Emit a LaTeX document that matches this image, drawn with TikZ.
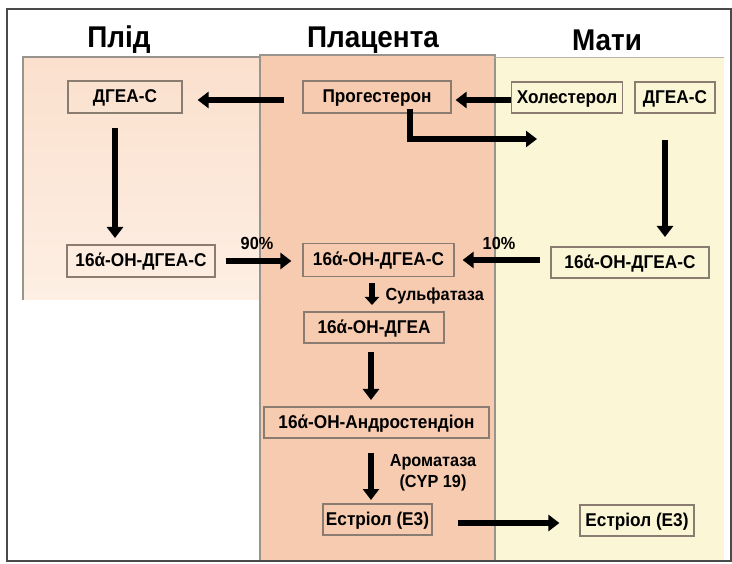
\documentclass[tikz,border=0pt]{standalone}
\usepackage{fontspec}
\setmainfont{Liberation Sans}[FakeStretch=0.93]
\usetikzlibrary{arrows.meta}
\definecolor{fetuscol}{HTML}{FBE0CD}
\definecolor{fetuslight}{HTML}{FDEFE4}
\definecolor{placcol}{HTML}{F7CBB0}
\definecolor{mothcol}{HTML}{FBF6D6}
\definecolor{boxline}{HTML}{8A7C70}
\definecolor{regline}{HTML}{9A948E}
\definecolor{framecol}{HTML}{4A4A4A}
\tikzset{
  box/.style={draw=boxline, line width=1.2pt, inner sep=0pt, text height=13.2pt, text depth=1.5pt, font=\bfseries\fontsize{18.5}{21}\selectfont},
  title/.style={font=\bfseries\fontsize{30}{34}\selectfont},
  lbl/.style={font=\bfseries\fontsize{17.5}{21}\selectfont},
  flow/.style={line width=6.5pt, -{Triangle[length=11pt,width=16pt]}},
}
\begin{document}
\begin{tikzpicture}[x=1pt,y=-1pt]
\useasboundingbox (0,0) rectangle (732,564);
\fill[white] (0,0) rectangle (732,564);
% regions
\shade[top color=fetuscol, bottom color=fetuslight] (23,57) rectangle (260,300);
\draw[regline, line width=1.2pt] (23,300) -- (23,57) -- (260,57);
\fill[placcol] (260,55) rectangle (495,561);
\fill[mothcol] (495,58) rectangle (724,561);
\draw[regline, line width=1.2pt] (260,561) -- (260,55) -- (495,55) -- (495,561);
\draw[regline!70, line width=1pt] (495,58) -- (724,58);
% frame
\draw[framecol, line width=2pt] (7,9) rectangle (731,561);
% titles
\node[title] (tf) at (119,40) {Плід};
\node[title] (tp) at (373,40) {Плацента};
\node[title] (tm) at (607,40) {Мати};
% boxes
\node[box, minimum width=114pt, minimum height=32pt] (f1) at (125,97) {ДГЕА-С};
\node[box, minimum width=148pt, minimum height=32pt] (p1) at (377,97) {Прогестерон};
\node[box, minimum width=111pt, minimum height=31pt] (m1) at (567,97.5) {Холестерол};
\node[box, minimum width=80pt, minimum height=31pt] (m2) at (675,97.5) {ДГЕА-С};
\node[box, minimum width=148pt, minimum height=32pt] (f2) at (141,261) {16ά-OH-ДГЕА-С};
\node[box, minimum width=151pt, minimum height=33pt] (p2) at (378.5,260) {16ά-OH-ДГЕА-С};
\node[box, minimum width=158pt, minimum height=31pt] (m3) at (630,262.5) {16ά-OH-ДГЕА-С};
\node[box, minimum width=140pt, minimum height=31pt] (p3) at (374,327.5) {16ά-OH-ДГЕА};
\node[box, minimum width=225pt, minimum height=31pt] (p4) at (376.5,422.5) {16ά-OH-Андростендіон};
\node[box, minimum width=109pt, minimum height=31pt] (p5) at (377.5,519.5) {Естріол (Е3)};
\node[box, minimum width=114pt, minimum height=31pt] (m4) at (637,520.5) {Естріол (Е3)};
% arrows
\draw[flow] ([xshift=-18pt]p1.west |- 0,100) -- ([xshift=15pt]f1.east |- 0,100);
\draw[flow] (m1.west |- 0,100) -- ([xshift=4pt]p1.east |- 0,100);
\coordinate (elb) at (537,139);
\draw[flow] ([xshift=33pt,yshift=5pt]p1.south) |- (elb);
\draw[flow] (115,128) -- (115,238);
\draw[flow] (665,140) -- (665,237);
\draw[flow] ([xshift=10pt]f2.east |- 0,261) -- ([xshift=-11pt]p2.west |- 0,261);
\draw[flow] ([xshift=-10pt]m3.west |- 0,260) -- ([xshift=8pt]p2.east |- 0,260);
\draw[flow, -{Triangle[length=8pt,width=14pt]}] (372,283) -- (372,305);
\draw[flow] (371,352) -- (371,400);
\draw[flow] (371,453) -- (371,500);
\draw[flow] ([xshift=25pt]p5.east |- 0,523) -- ([xshift=-20pt]m4.west |- 0,523);
% labels
\node[lbl] (l90) at (257,243) {90\%};
\node[lbl] (l10) at (499,243) {10\%};
\node[lbl, anchor=west] (lsul) at (382,296) {Сульфатаза};
\node[lbl, align=center] (lar) at (433,473) {Ароматаза\\(CYP 19)};
\end{tikzpicture}
\end{document}
